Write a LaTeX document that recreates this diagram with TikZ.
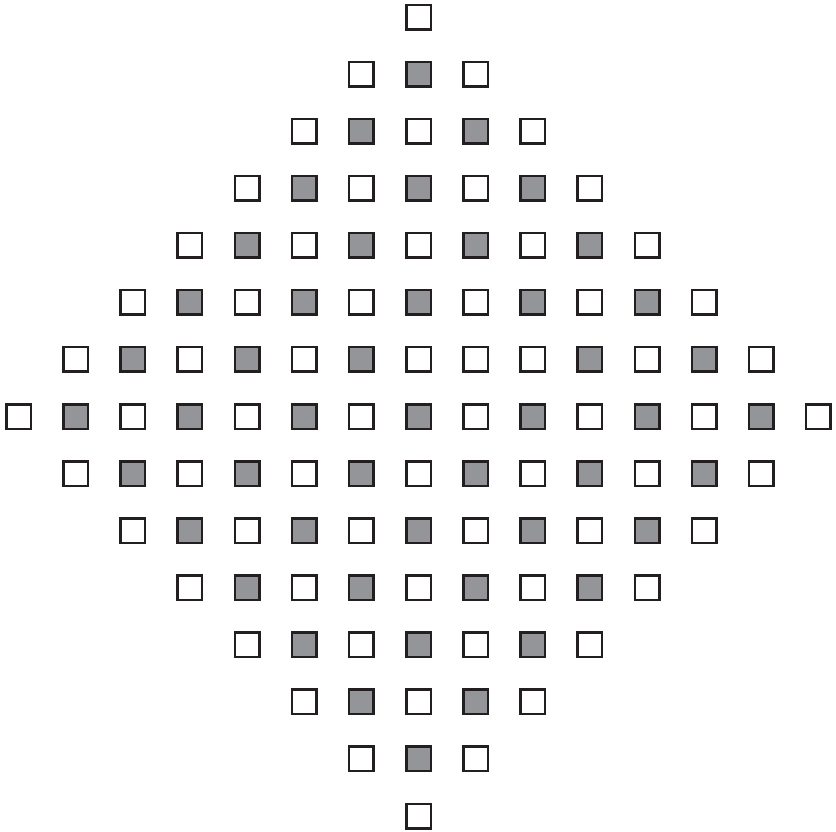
\documentclass[tikz,border=0pt]{standalone}
\definecolor{sqline}{HTML}{231F20}
\definecolor{sqgray}{HTML}{939598}
\tikzset{
  sqbase/.style={draw=sqline, line width=2.5pt, minimum size=24.5pt, inner sep=0pt, outer sep=0pt, shape=rectangle},
  wsq/.style={sqbase, fill=white},
  gsq/.style={sqbase, fill=sqgray}
}
\begin{document}
\begin{tikzpicture}[x=1pt,y=-1pt]
\useasboundingbox (0,0) rectangle (836,831);
\foreach \r in {0,...,14}{
  \foreach \c in {0,...,14}{
    \pgfmathtruncatemacro\d{abs(\r-7)+abs(\c-7)}
    \pgfmathtruncatemacro\g{mod(\r+\c+1,2)}
    \ifnum\r=6 \ifnum\c=8 \def\g{0}\fi\fi
    \ifnum\d<8
      \ifnum\g=1
        \node[gsq] (sq-\r-\c) at ({418.5+57.14*(\c-7)},{416.5+57.07*(\r-7)}) {};
      \else
        \node[wsq] (sq-\r-\c) at ({418.5+57.14*(\c-7)},{416.5+57.07*(\r-7)}) {};
      \fi
    \fi
  }
}
\end{tikzpicture}
\end{document}
